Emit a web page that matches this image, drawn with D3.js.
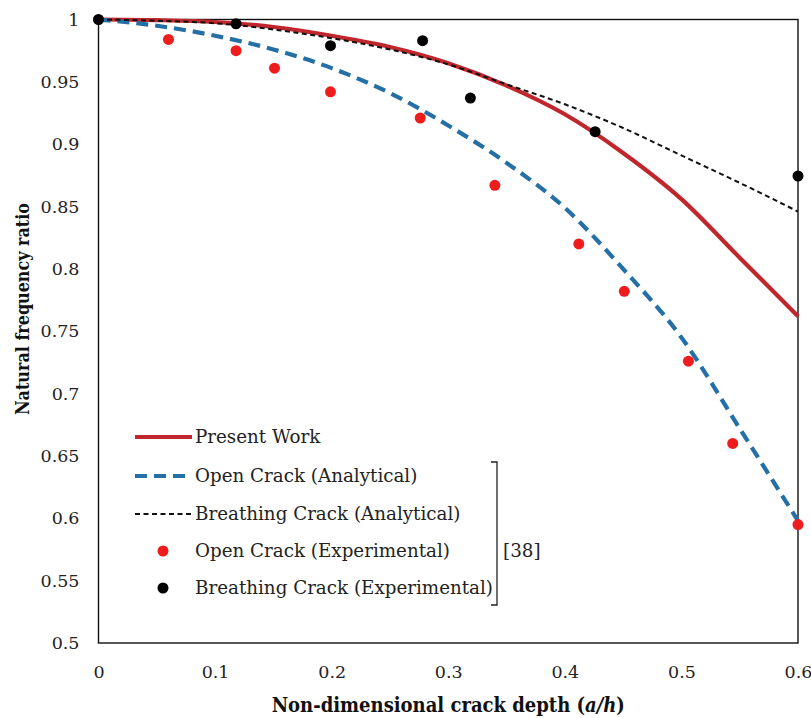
<!DOCTYPE html>
<html>
<head>
<meta charset="utf-8">
<script src="https://cdn.jsdelivr.net/npm/d3@7"></script>
<style>
  html, body { margin: 0; padding: 0; background: #fff; }
  svg { display: block; }
</style>
</head>
<body>
<svg id="chart" width="811" height="718"></svg>
<script>
// Crack depth grid for the continuous curves
const curveDepth = [0, 0.05, 0.1, 0.15, 0.2, 0.25, 0.3, 0.35, 0.4, 0.45, 0.5, 0.55, 0.6];
// Present work (solid red)
const presentWork = [1, 0.9995, 0.998, 0.994, 0.987, 0.978, 0.965, 0.947, 0.924, 0.893, 0.856, 0.809, 0.762];
// Open crack, analytical [38] (blue dashed)
const openAnalytical = [1, 0.995, 0.987, 0.976, 0.961, 0.941, 0.915, 0.885, 0.849, 0.800, 0.745, 0.672, 0.598];
// Breathing crack, analytical [38] (black dashed)
const breathingAnalytical = [1, 0.999, 0.997, 0.992, 0.985, 0.976, 0.964, 0.948, 0.932, 0.913, 0.891, 0.869, 0.846];

// Experimental points [38]
const openExpDepth = [0.06, 0.118, 0.151, 0.199, 0.276, 0.34, 0.412, 0.451, 0.506, 0.544, 0.6];
const openExpRatio = [0.984, 0.975, 0.961, 0.942, 0.921, 0.867, 0.820, 0.782, 0.726, 0.660, 0.595];
const breathingExpDepth = [0, 0.118, 0.199, 0.278, 0.319, 0.426, 0.6];
const breathingExpRatio = [1, 0.9966, 0.979, 0.983, 0.937, 0.910, 0.8745];

// Axis ticks
const xTicks = [0, 0.1, 0.2, 0.3, 0.4, 0.5, 0.6];
const yTicks = [0.5, 0.55, 0.6, 0.65, 0.7, 0.75, 0.8, 0.85, 0.9, 0.95, 1];

const legendLabels = [
  "Present Work",
  "Open Crack (Analytical)",
  "Breathing Crack (Analytical)",
  "Open Crack (Experimental)",
  "Breathing Crack (Experimental)"
];

const colRed = "#c0272d";
const colBlue = "#2470a6";
const colDot = "#ee1c1c";

const svg = d3.select("#chart");
const plot = { left: 98.5, right: 798, top: 19.5, bottom: 643 };

const x = d3.scaleLinear().domain([0, 0.6]).range([plot.left, plot.right]);
const y = d3.scaleLinear().domain([0.5, 1]).range([plot.bottom, plot.top]);

const tickFont = "'DejaVu Serif', serif";
const titleFont = "'DejaVu Serif Condensed', 'DejaVu Serif', serif";
const fmt = d => d3.format("~g")(d);

// Y axis
const yAxis = svg.append("g")
  .attr("transform", `translate(${plot.left},0)`)
  .call(d3.axisLeft(y).tickValues(yTicks).tickSize(0).tickPadding(19).tickFormat(fmt));
yAxis.select(".domain").remove();
yAxis.selectAll("text").attr("font-family", tickFont).attr("font-size", 17.5).attr("fill", "#222");

// X axis
const xAxis = svg.append("g")
  .attr("transform", `translate(0,${plot.bottom})`)
  .call(d3.axisBottom(x).tickValues(xTicks).tickSize(0).tickPadding(23).tickFormat(fmt));
xAxis.select(".domain").remove();
xAxis.selectAll("text").attr("font-family", tickFont).attr("font-size", 17.5).attr("fill", "#222");

// Plot frame
svg.append("rect")
  .attr("x", plot.left).attr("y", plot.top)
  .attr("width", plot.right - plot.left).attr("height", plot.bottom - plot.top)
  .attr("fill", "none").attr("stroke", "#111").attr("stroke-width", 1.4);

// Axis titles
svg.append("text")
  .attr("x", (plot.left + plot.right) / 2).attr("y", 712)
  .attr("text-anchor", "middle")
  .attr("font-family", titleFont).attr("font-stretch", "condensed").attr("font-weight", "bold")
  .attr("font-size", 20).attr("fill", "#111")
  .call(t => {
    t.append("tspan").text("Non-dimensional crack depth (");
    t.append("tspan").attr("font-style", "italic").text("a/h");
    t.append("tspan").text(")");
  });

svg.append("text")
  .attr("transform", `translate(29,309) rotate(-90)`)
  .attr("text-anchor", "middle")
  .attr("font-family", titleFont).attr("font-stretch", "condensed").attr("font-weight", "bold")
  .attr("font-size", 18).attr("fill", "#111")
  .attr("textLength", 212).attr("lengthAdjust", "spacingAndGlyphs")
  .text("Natural frequency ratio");

// Curves (black dashed drawn last so it sits on top of the red line)
const line = d3.line()
  .x(d => x(d[0])).y(d => y(d[1]))
  .curve(d3.curveMonotoneX);

const series = [
  { vals: presentWork, color: colRed, width: 4.2, dash: null },
  { vals: openAnalytical, color: colBlue, width: 4.2, dash: "12,7" },
  { vals: breathingAnalytical, color: "#111", width: 2, dash: "5,3.5" }
];

series.forEach(s => {
  svg.append("path")
    .datum(curveDepth.map((d, i) => [d, s.vals[i]]))
    .attr("d", line)
    .attr("fill", "none")
    .attr("stroke", s.color)
    .attr("stroke-width", s.width)
    .attr("stroke-dasharray", s.dash);
});

// Experimental markers
svg.append("g").selectAll("circle")
  .data(openExpDepth.map((d, i) => [d, openExpRatio[i]]))
  .join("circle")
  .attr("cx", d => x(d[0])).attr("cy", d => y(d[1]))
  .attr("r", 5.5).attr("fill", colDot);

svg.append("g").selectAll("circle")
  .data(breathingExpDepth.map((d, i) => [d, breathingExpRatio[i]]))
  .join("circle")
  .attr("cx", d => x(d[0])).attr("cy", d => y(d[1]))
  .attr("r", 5.5).attr("fill", "#000");

// Legend
const legendFont = "'DejaVu Serif', serif";
const legendRows = [437, 476, 514, 551, 588];
const lg = svg.append("g");
const symX0 = 135, symX1 = 192, textX = 195;

legendRows.forEach((ry, i) => {
  if (i === 0) {
    lg.append("line").attr("x1", symX0).attr("x2", symX1).attr("y1", ry).attr("y2", ry)
      .attr("stroke", colRed).attr("stroke-width", 4.2);
  } else if (i === 1) {
    lg.append("line").attr("x1", symX0).attr("x2", symX1).attr("y1", ry).attr("y2", ry)
      .attr("stroke", colBlue).attr("stroke-width", 4.2).attr("stroke-dasharray", "12,7");
  } else if (i === 2) {
    lg.append("line").attr("x1", symX0).attr("x2", symX1).attr("y1", ry).attr("y2", ry)
      .attr("stroke", "#111").attr("stroke-width", 2).attr("stroke-dasharray", "5,3.5");
  } else {
    lg.append("circle").attr("cx", 163).attr("cy", ry).attr("r", 5.5)
      .attr("fill", i === 3 ? colDot : "#000");
  }
  lg.append("text")
    .attr("x", textX).attr("y", ry).attr("dy", "0.35em")
    .attr("font-family", legendFont).attr("font-size", 18.3).attr("fill", "#222")
    .text(legendLabels[i]);
});

// Reference bracket
lg.append("path")
  .attr("d", "M491,462 H497 V605 H491")
  .attr("fill", "none").attr("stroke", "#222").attr("stroke-width", 1.3);
lg.append("text")
  .attr("x", 503).attr("y", 551).attr("dy", "0.35em")
  .attr("font-family", legendFont).attr("font-size", 18.3).attr("fill", "#222")
  .text("[38]");
</script>
</body>
</html>
